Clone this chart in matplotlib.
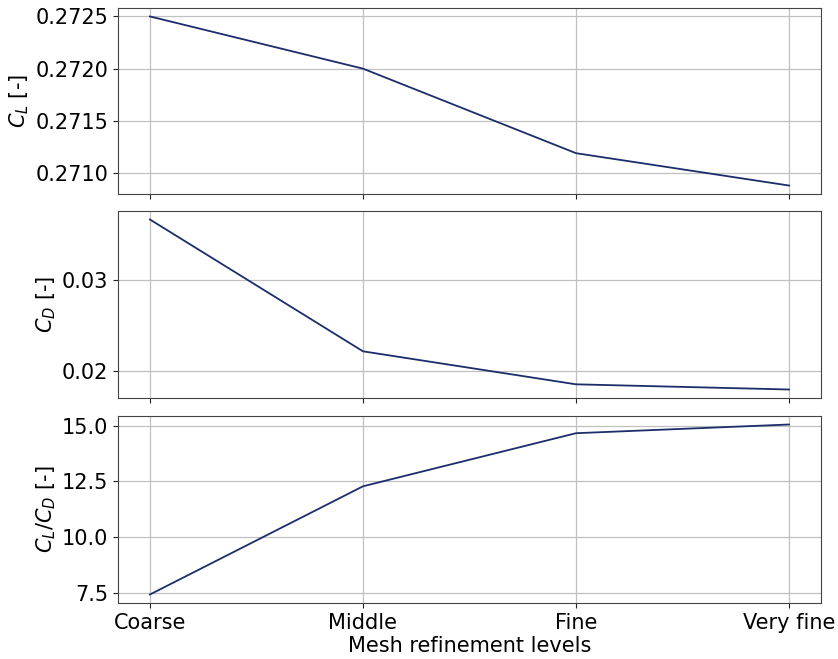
import matplotlib
matplotlib.use("Agg")
import matplotlib.pyplot as plt

levels = ["Coarse", "Middle", "Fine", "Very fine"]
cl = [0.27250, 0.27200, 0.27119, 0.27088]
cd = [0.0367, 0.0222, 0.01857, 0.0180]
cl_cd = [7.43, 12.28, 14.66, 15.05]

color = "#1b2d6b"
plt.rcParams["font.size"] = 15

fig = plt.figure(figsize=(8.38, 6.59), dpi=100)
W, H = 838, 659
def ax_at(x0, y0, x1, y1, **kw):
    return fig.add_axes([x0 / W, 1 - y1 / H, (x1 - x0) / W, (y1 - y0) / H], **kw)

ax1 = ax_at(118, 8, 821, 194)
ax2 = ax_at(118, 211, 821, 398, sharex=ax1)
ax3 = ax_at(118, 416, 821, 603, sharex=ax1)

x = list(range(len(levels)))
for ax, y, lab in [(ax1, cl, r"$C_L$ [-]"), (ax2, cd, r"$C_D$ [-]"), (ax3, cl_cd, r"$C_L/C_D$ [-]")]:
    ax.plot(x, y, color=color, lw=1.3)
    ax.set_ylabel(lab, labelpad=3)
    ax.grid(True, color="#c0c0c0", lw=0.9)
    for s in ax.spines.values():
        s.set_color("#444444")
    ax.tick_params(colors="#222222", labelcolor="black")

ax1.set_yticks([0.2710, 0.2715, 0.2720, 0.2725])
ax1.set_yticklabels(["0.2710", "0.2715", "0.2720", "0.2725"])
ax2.set_yticks([0.02, 0.03])
ax3.set_yticks([7.5, 10.0, 12.5, 15.0])
ax3.set_xticks(x)
ax3.set_xticklabels(levels)
ax1.tick_params(labelbottom=False)
ax2.tick_params(labelbottom=False)
ax3.set_xlabel("Mesh refinement levels", labelpad=2)

fig.savefig("out.png", dpi=100)
